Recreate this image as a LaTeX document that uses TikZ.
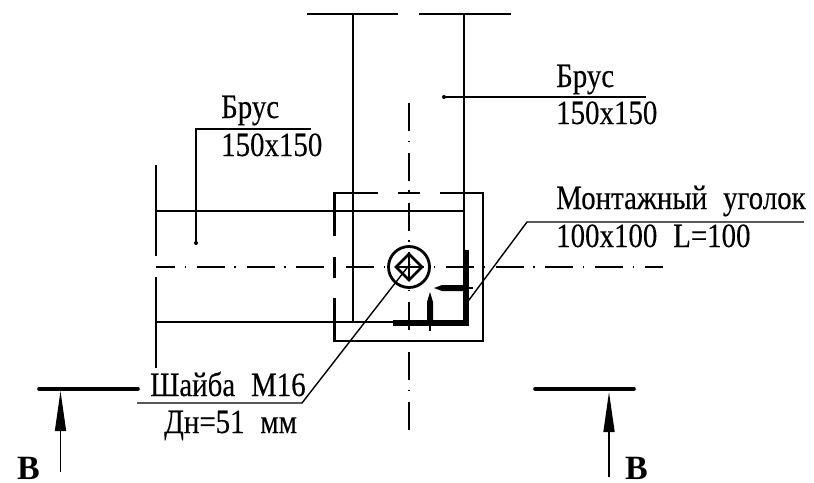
\documentclass[tikz,border=0pt]{standalone}
\usepackage{fontspec}
\setmainfont{Liberation Serif}
\newfontfamily\labelfont[FakeStretch=0.85,FakeBold=0.25,WordSpace=2.2]{Liberation Serif}
\usetikzlibrary{arrows.meta}
\tikzset{>={Triangle[length=40pt,width=11pt]}}
\tikzset{
  contour/.style={line width=2pt},
  leader/.style={line width=1.4pt},
  heavy/.style={line width=3.6pt,line cap=round},
  axisline/.style={line width=2pt,dash pattern=on 28pt off 9.5pt on 1.5pt off 10.8pt},
  plate/.style={line width=2.2pt},
  lbl/.style={inner sep=0pt,anchor=base west,font=\labelfont\fontsize{34}{34}\selectfont},
  letter/.style={inner sep=0pt,anchor=base west,font=\bfseries\fontsize{34}{34}\selectfont},
}
\begin{document}
\begin{tikzpicture}[x=1pt,y=-1pt]
  \useasboundingbox (0,0) rectangle (814,482);
  % axes
  \draw[axisline,dash phase=9pt] (156,267) -- (663,267);
  \draw[axisline] (409,103) -- (409,431);
  % upper beam
  \draw[contour] (307,14) -- (398,14) (419,14) -- (511,14);
  \draw[contour] (353,14) -- (353,322);
  \draw[contour] (464,14) -- (464,250);
  % left beam
  \draw[contour] (156,211) -- (464,211);
  \draw[contour] (156,322) -- (393,322);
  \draw[contour] (156,165) -- (156,256);
  \draw[contour] (156,277) -- (156,368);
  % plate
  \draw[plate] (334.5,236) -- (334.5,193) -- (378,193);
  \draw[plate] (398,193) -- (420,193);
  \draw[plate] (440,193) -- (483,193) -- (483,341) -- (334.5,341) -- (334.5,298);
  \draw[plate] (334.5,257) -- (334.5,278);
  % washer
  \draw[line width=2.8pt] (409,267) circle (20.5);
  \draw[line width=2.8pt] (409,254) -- (422,267) -- (409,280) -- (396,267) -- cycle;
  % angle and bolts
  \draw[line width=5.5pt] (466,250) -- (466,323) -- (393,323);
  \fill (434,288) -- (442,285) -- (464,285) -- (464,291) -- (442,291) -- cycle;
  \draw[contour] (464,288) -- (473,288);
  \fill (430,292) -- (433,302) -- (433,323) -- (427,323) -- (427,302) -- cycle;
  \draw[contour] (430,323) -- (430,331);
  % section marks
  \draw[heavy] (39,389) -- (138,389);
  \draw[heavy] (535,389) -- (634,389);
  \draw[->,line width=1.5pt] (60.5,472) -- (60.5,391);
  \draw[->,line width=1.5pt] (609,477) -- (609,392);
  \node[letter] (markL) at (17,479.5) {В};
  \node[letter] (markR) at (625,479.5) {В};
  % leaders
  \fill (196,243) circle (2);
  \draw[leader] (196,243) -- (196,129) -- (311,129);
  \fill (444,97) circle (2);
  \draw[leader] (444,97) -- (646,97);
  \draw[leader] (466,304) -- (527,222) -- (804,222);
  \draw[leader] (410,264) -- (302,403) -- (137,403);
  % labels
  \node[lbl] (brusL) at (221,118) {Брус};
  \node[lbl] (sizeL) at (221,156) {150x150};
  \node[lbl] (brusR) at (556,87) {Брус};
  \node[lbl] (sizeR) at (556,124) {150x150};
  \node[lbl] (ugolok) at (556,209) {Монтажный уголок};
  \node[lbl] (ugolokSize) at (556,247) {100x100 L=100};
  \node[lbl] (shaiba) at (150,396) {Шайба М16};
  \node[lbl] (dn) at (164,433) {Дн=51 мм};
\end{tikzpicture}
\end{document}
